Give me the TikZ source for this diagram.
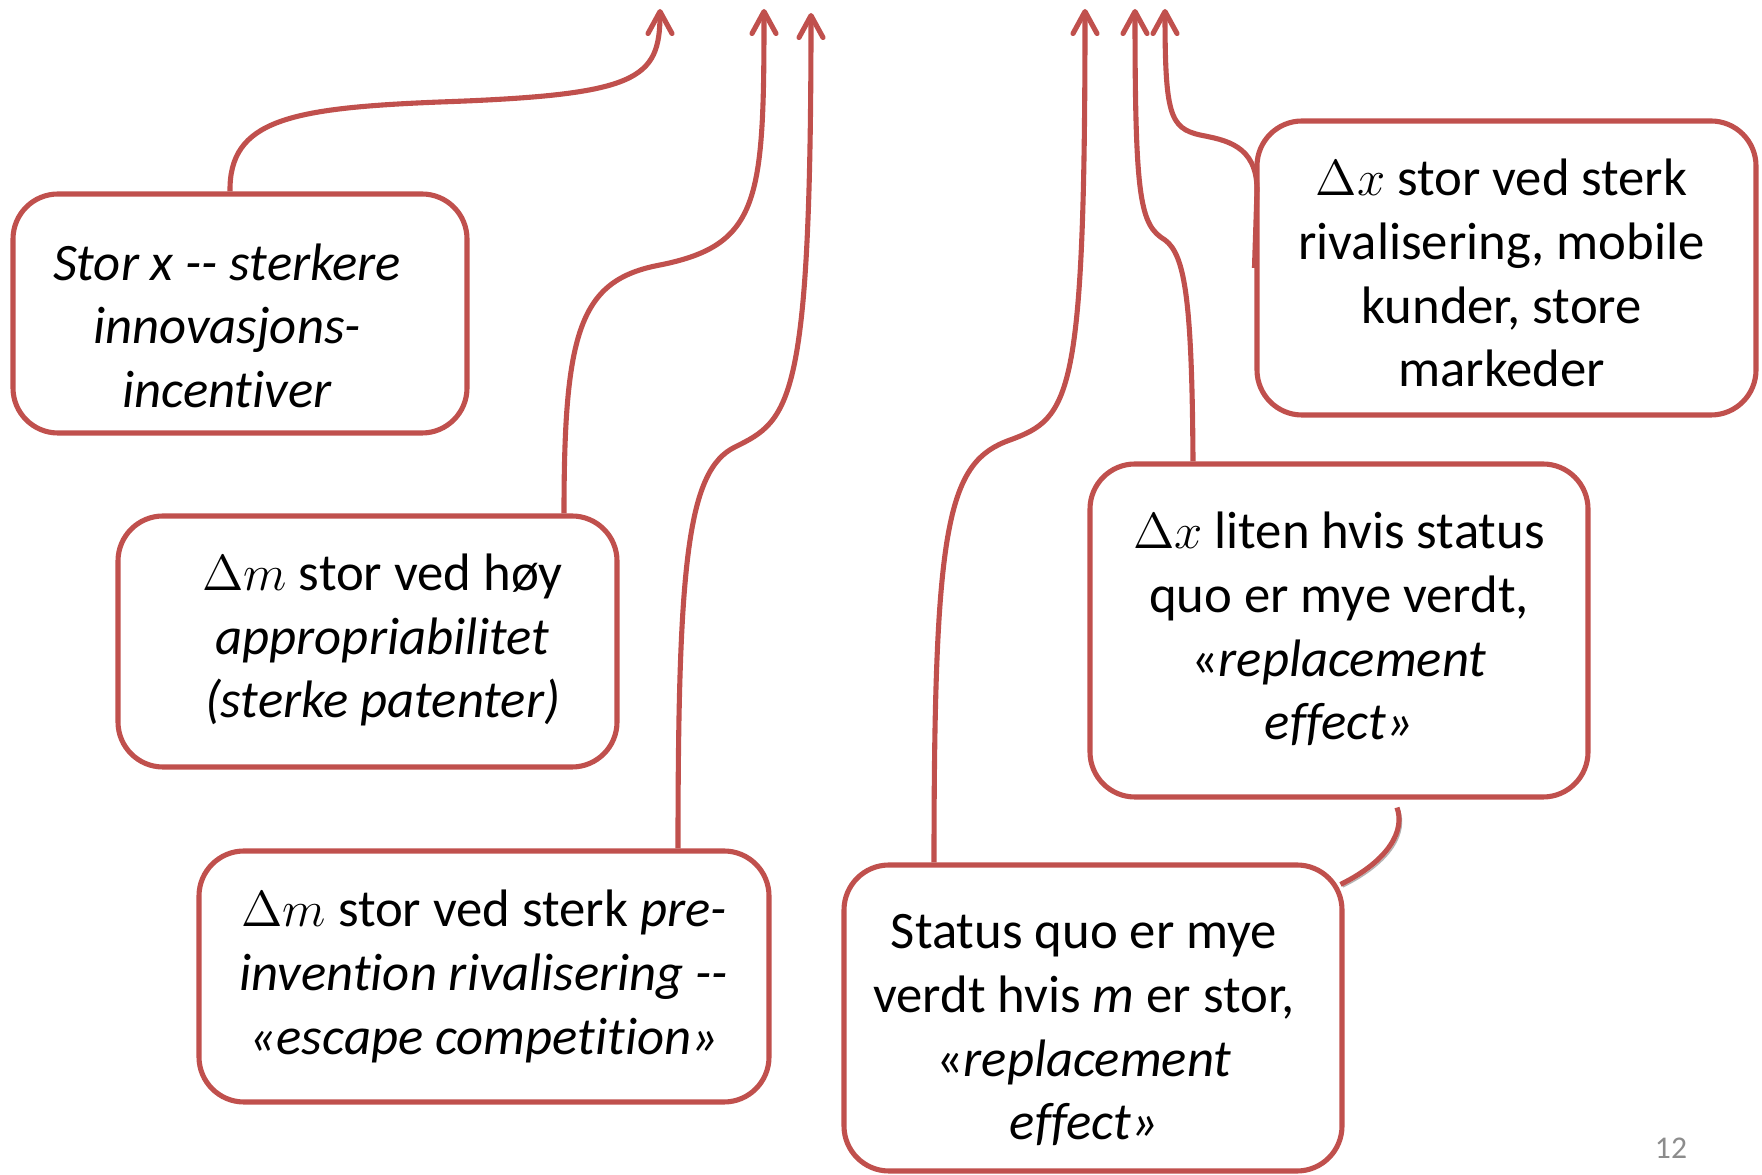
\documentclass[tikz,border=0pt]{standalone}
\usepackage{fontspec}
\setmainfont{Carlito}[Ligatures=NoCommon]
\usetikzlibrary{arrows.meta}
\definecolor{boxred}{HTML}{C0504D}
% text block moved by (#1,#2) inside its box
\newcommand\shifted[3]{\raisebox{#2}[\height][\depth]{\hspace*{#1}\begin{tabular}{@{}c@{}}#3\end{tabular}\hspace*{-#1}}}

\begin{document}
\begin{tikzpicture}[x=0.1mm, y=-0.1mm,
  box/.style={draw=boxred, line width=1.45pt, rounded corners=4.5mm, align=center,
    inner sep=0pt, font=\fontsize{15}{18.1}\selectfont},
  link/.style={draw=boxred, line width=1.45pt,
    -{Straight Barb[length=2.2mm, width=2.4mm, round]}}]
  \useasboundingbox (0,0) rectangle (1762,1175);

  % the six boxes
  \node[box, minimum width=4.54cm, minimum height=2.39cm] (stor) at (240,313.5)
    {\shifted{-1.3mm}{-1.75mm}{\textit{Stor x -{}- sterkere}\\ \textit{innovasjons-}\\ \textit{incentiver}}};
  \node[box, minimum width=4.99cm, minimum height=2.51cm] (hoy) at (367.5,641.5)
    {\shifted{1.5mm}{0mm}{$\Delta m$ stor ved høy\\ \textit{appropriabilitet}\\ \textit{(sterke patenter)}}};
  \node[box, minimum width=5.70cm, minimum height=2.51cm] (pre) at (484,976.5)
    {$\Delta m$ stor ved sterk \textit{pre-}\\ \textit{invention rivalisering -{}-}\\ \textit{«escape competition»}};
  \node[box, minimum width=4.98cm, minimum height=3.06cm] (status) at (1093,1018)
    {\shifted{-0.9mm}{-1.35mm}{Status quo er mye\\ verdt hvis \textit{m} er stor,\\ «\textit{replacement}\\ \textit{effect»}}};
  \node[box, minimum width=4.98cm, minimum height=3.33cm] (liten) at (1339,630.5)
    {\shifted{0mm}{-0.1mm}{$\Delta x$ liten hvis status\\ quo er mye verdt,\\ «\textit{replacement}\\ \textit{effect»}}};
  \node[box, minimum width=4.99cm, minimum height=2.94cm] (sterk) at (1506.5,268)
    {\shifted{-0.5mm}{-1.05mm}{$\Delta x$ stor ved sterk\\ rivalisering, mobile\\ kunder, store\\ markeder}};

  % arrow ends at the top
  \coordinate (t1) at (660,9);
  \coordinate (t2) at (764,9);
  \coordinate (t3) at (811,13);
  \coordinate (t4) at (1085,9);
  \coordinate (t5) at (1135,9);
  \coordinate (t6) at (1165,9);

  \draw[link] ([xshift=-1mm]stor.north) .. controls (229,120) and (290,108) .. (440,102)
    .. controls (638,95) and (660,80) .. (t1);
  \draw[link] ([xshift=19.65mm]hoy.north) .. controls (564,330) and (580,280) .. (660,265)
    .. controls (760,245) and (764,200) .. (t2);
  \draw[link] ([xshift=19.4mm]pre.north) .. controls (678,560) and (688,470) .. (735,447)
    .. controls (790,420) and (811,405) .. (t3);
  \draw[link] ([xshift=-15.9mm]status.north) .. controls (934,520) and (948,462) .. (1010,440)
    .. controls (1070,418) and (1085,400) .. (t4);
  \draw[link] ([xshift=-14.6mm]liten.north) .. controls (1192,300) and (1185,255) .. (1165,240)
    .. controls (1140,225) and (1135,200) .. (t5);
  \draw[link] (sterk.west) -- (1257,190) .. controls (1257,145) and (1225,140) .. (1200,135)
    .. controls (1170,128) and (1165,115) .. (t6);

  % short link between the two replacement boxes
  \draw[boxred, line width=1.45pt,
    preaction={draw=black!30, transform canvas={shift={(0.7pt,-0.7pt)}}}]
    ([xshift=5.8mm, yshift=-0.8mm]liten.south) .. controls (1405,830) and (1390,860)
    .. ([xshift=-0.4mm, yshift=-2.2mm]status.north east);

  \node[text=black!45, font=\fontsize{9}{10}\selectfont] (side) at (1671,1148) {12};
\end{tikzpicture}
\end{document}
